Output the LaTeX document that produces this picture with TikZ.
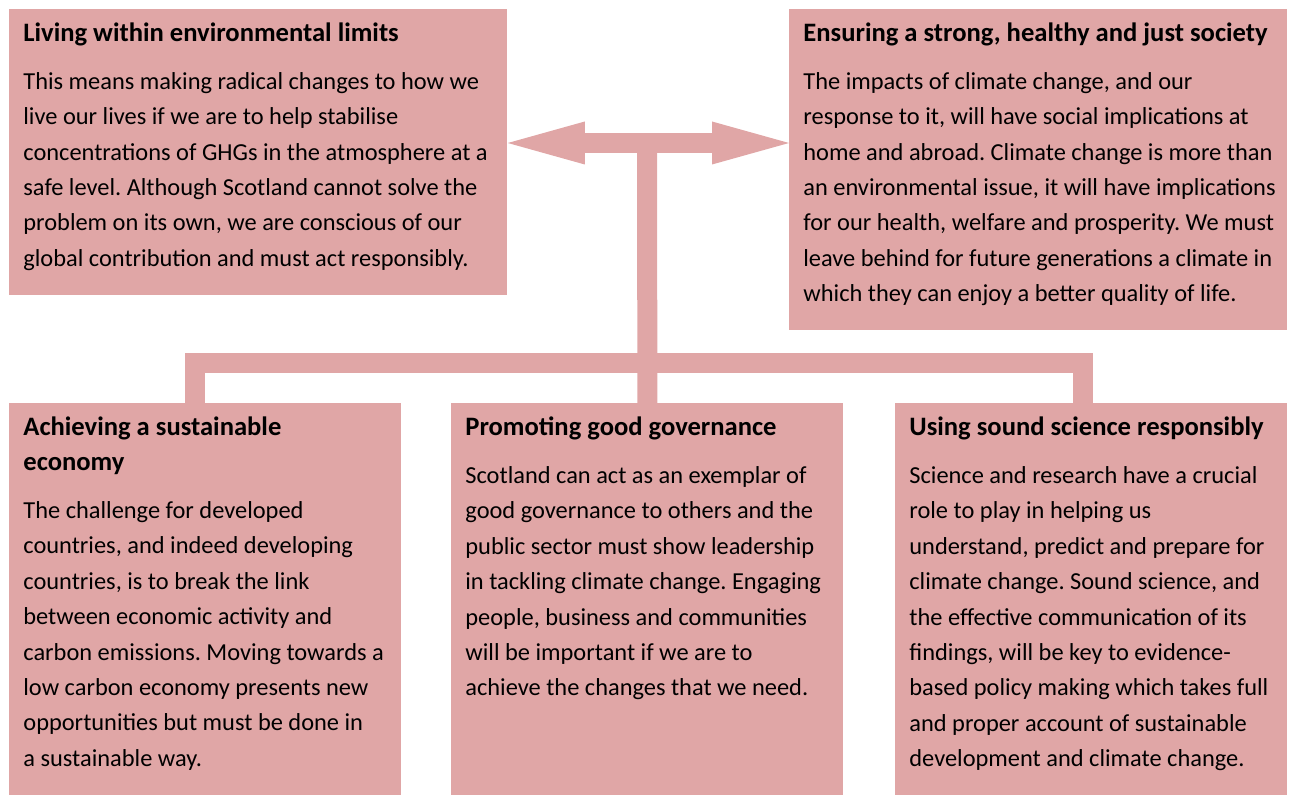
\documentclass[tikz,border=0pt]{standalone}
\usepackage{fontspec}
\setmainfont{Carlito}
\usetikzlibrary{arrows.meta}
\definecolor{boxpink}{RGB}{224,166,166}
\frenchspacing
\newcommand{\panelbox}[4]{\makebox[#1][l]{\parbox[c][#2][t]{\dimexpr#1+60pt\relax}{\raggedright
  \rule{0pt}{16pt}{\fontsize{13.3}{17.5}\selectfont\bfseries #3\par}\vspace{6.3pt}#4}}}

\begin{document}
\begin{tikzpicture}[x=0.5pt,y=-0.5pt,
    panel/.style={fill=boxpink,inner xsep=7pt,inner ysep=0pt,anchor=north west,
      font=\fontsize{12.2}{17.7}\selectfont},
    link/.style={draw=boxpink,line width=10pt}]
    \useasboundingbox (0,0) rectangle (1290,796);
    \node[panel] (living) at (9,9) {\panelbox{235pt}{143pt}{Living within environmental limits}{%
      This means making radical changes to how we\\
      live our lives if we are to help stabilise\\
      concentrations of GHGs in the atmosphere at a\\
      safe level. Although Scotland cannot solve the\\
      problem on its own, we are conscious of our\\
      global contribution and must act responsibly.}};
    \node[panel] (society) at (789,9) {\panelbox{235pt}{160.5pt}{Ensuring a strong, healthy and just society}{%
      The impacts of climate change, and our\\
      response to it, will have social implications at\\
      home and abroad. Climate change is more than\\
      an environmental issue, it will have implications\\
      for our health, welfare and prosperity. We must\\
      leave behind for future generations a climate in\\
      which they can enjoy a better quality of life.}};
    \node[panel] (achieving) at (9,403) {\panelbox{182pt}{196pt}{Achieving a sustainable\\economy}{%
      The challenge for developed\\
      countries, and indeed developing\\
      countries, is to break the link\\
      between economic activity and\\
      carbon emissions. Moving towards a\\
      low carbon economy presents new\\
      opportunities but must be done in\\
      a sustainable way.}};
    \node[panel] (promoting) at (451,403) {\panelbox{182pt}{196pt}{Promoting good governance}{%
      Scotland can act as an exemplar of\\
      good governance to others and the\\
      public sector must show leadership\\
      in tackling climate change. Engaging\\
      people, business and communities\\
      will be important if we are to\\
      achieve the changes that we need.}};
    \node[panel] (science) at (895,403) {\panelbox{182pt}{196pt}{Using sound science responsibly}{%
      Science and research have a crucial\\
      role to play in helping us\\
      understand, predict and prepare for\\
      climate change. Sound science, and\\
      the effective communication of its\\
      findings, will be key to evidence-\\
      based policy making which takes full\\
      and proper account of sustainable\\
      development and climate change.}};
    \coordinate (hub) at (647,143);
    \coordinate (barL) at (195,363);
    \coordinate (barR) at (1083,363);
    \draw[link,{Triangle[length=38.5pt,width=21.5pt,line width=0pt]}-{Triangle[length=38.5pt,width=21.5pt,line width=0pt]}]
      (living.east |- hub) -- (society.west |- hub);
    \draw[link] (hub) -- (promoting.north);
    \draw[link,line join=miter] (achieving.north -| barL) -- (barL) -- (barR) -- (science.north -| barR);
\end{tikzpicture}
\end{document}
